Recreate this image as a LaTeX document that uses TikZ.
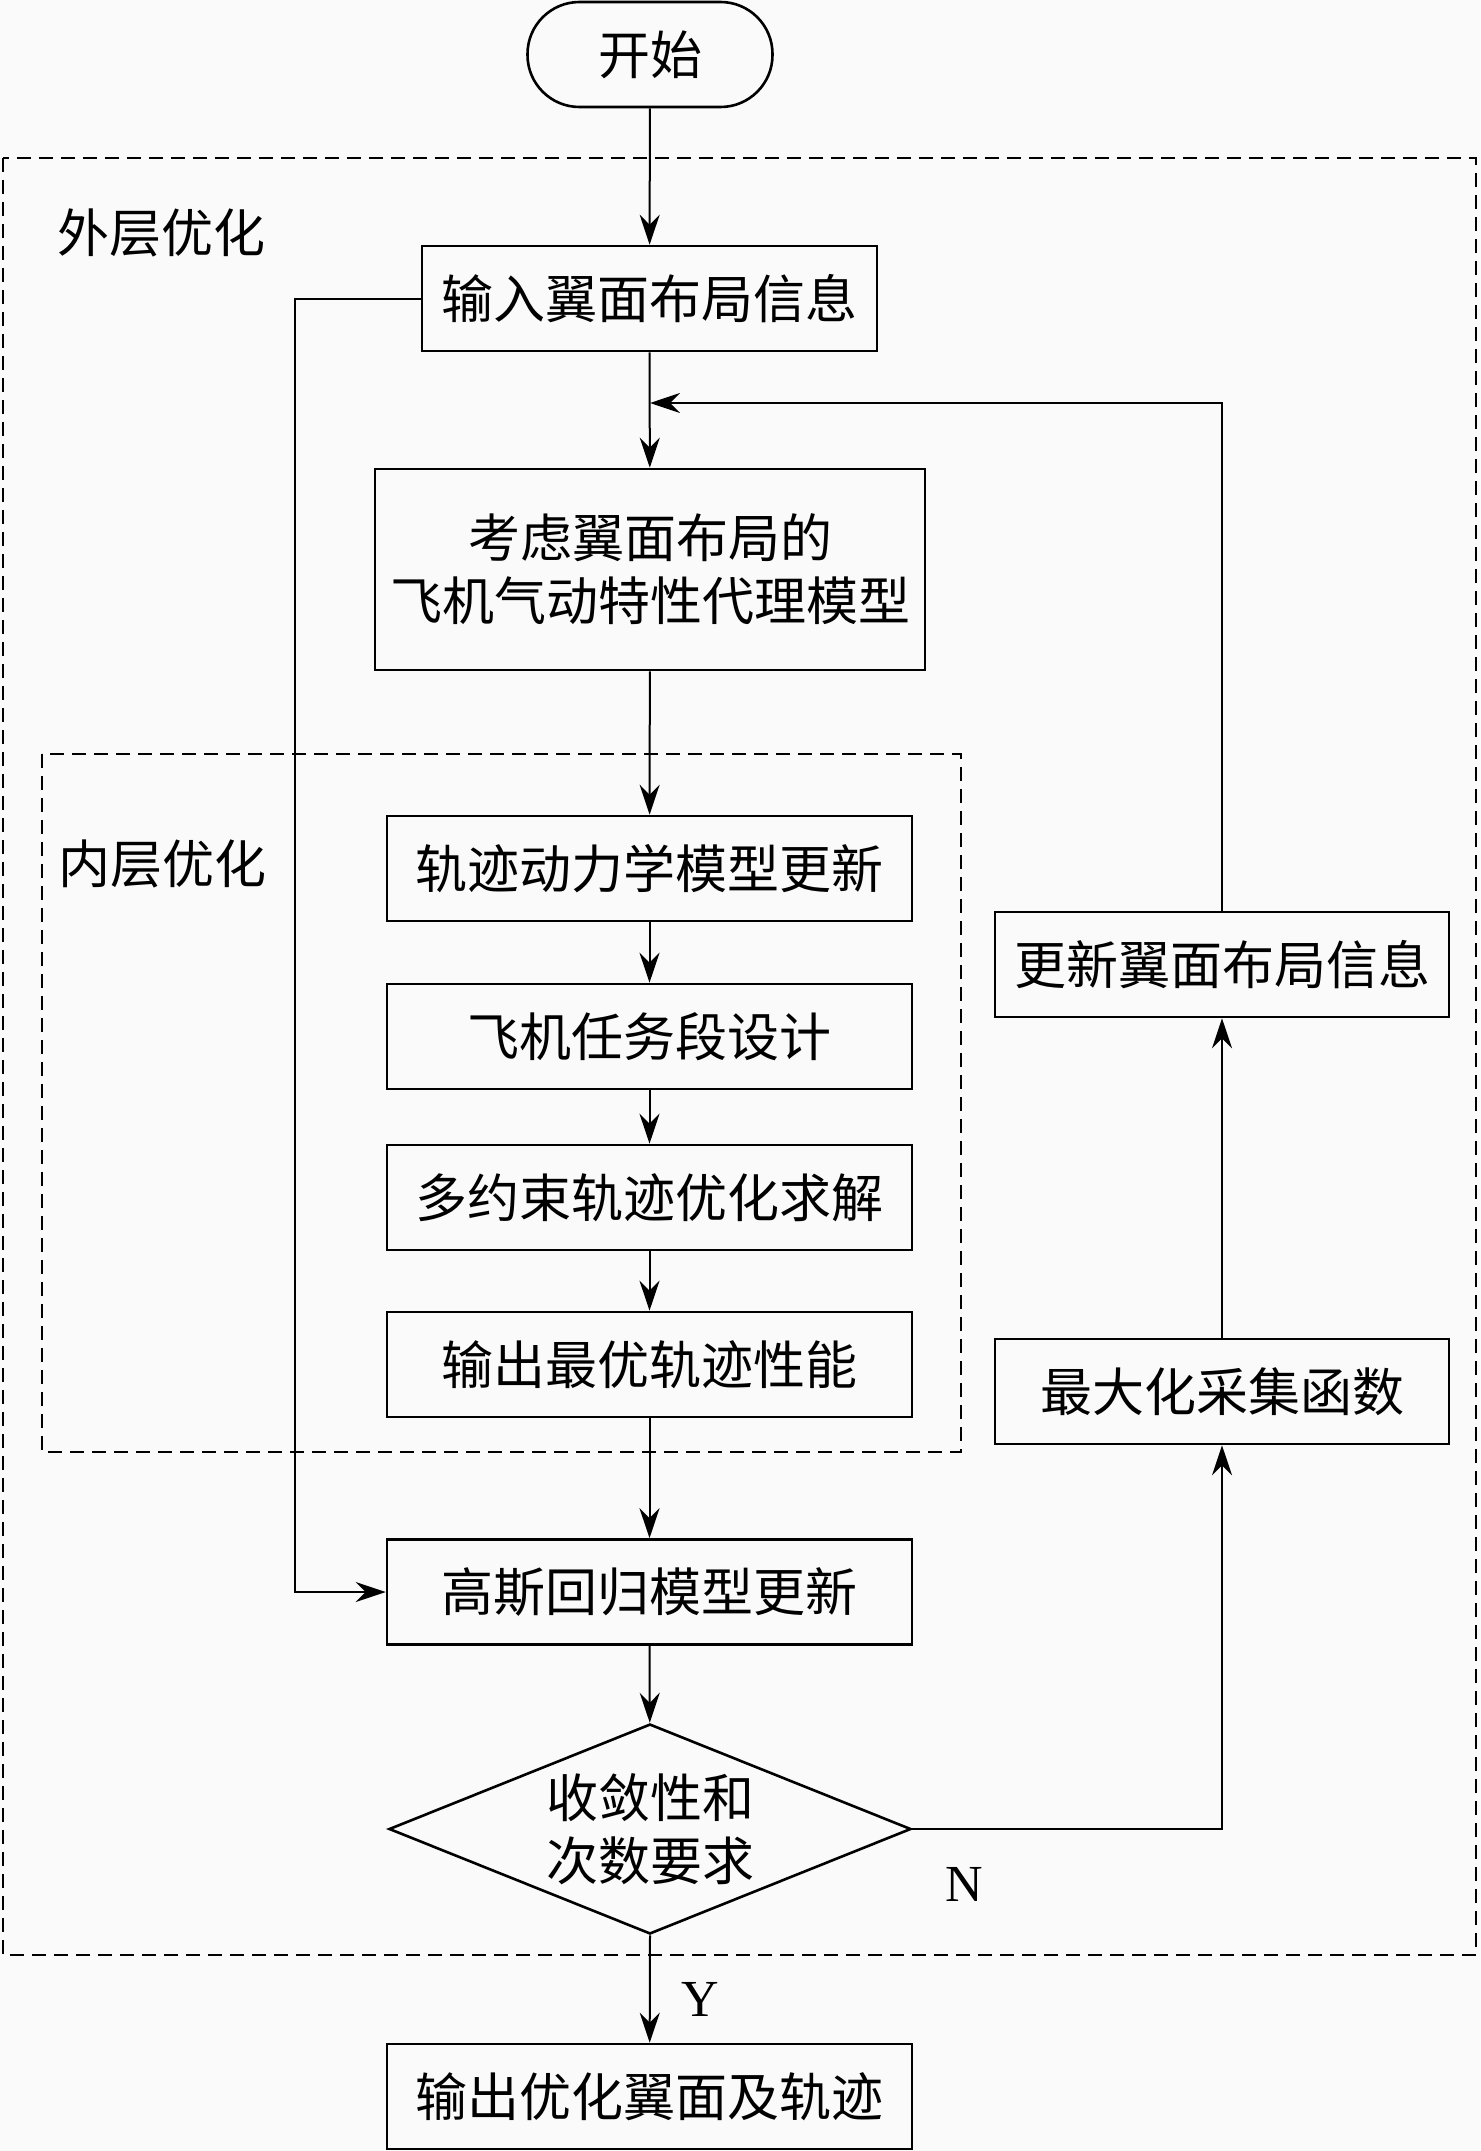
\documentclass[tikz,border=0pt]{standalone}
\usepackage{fontspec}
\setmainfont{Liberation Serif}
\newfontfamily\cjk{Noto Sans CJK SC}
\usetikzlibrary{arrows.meta,shapes.geometric}
\definecolor{bg}{RGB}{250,250,250}

\tikzset{
  box/.style={draw, line width=1.3pt, minimum height=52.5pt, inner sep=0pt, align=center, font=\cjk\fontsize{26}{31.5}\selectfont},
  lbl/.style={inner sep=0pt, font=\cjk\fontsize{26}{31.5}\selectfont},
  yn/.style={inner sep=0pt, font=\fontsize{26}{30}\selectfont},
  arr/.style={line width=1pt, -{Stealth[length=15pt,width=10pt,inset=5pt]}},
  zone/.style={line width=1.2pt, dash pattern=on 7pt off 4pt}
}

\begin{document}
\begin{tikzpicture}[x=0.5pt,y=-0.5pt]

\fill[bg] (0,0) rectangle (1480,2151);
\useasboundingbox (0,0) rectangle (1480,2151);

\draw[zone] (3,158) rectangle (1476,1955);
\draw[zone] (42,754) rectangle (961,1452);
\node[lbl] (outerlbl) at (161,233) {外层优化};
\node[lbl] (innerlbl) at (162,864) {内层优化};

\node[box, rounded corners=26pt, minimum width=122.5pt] (start) at (650,54.5) {开始};
\node[box, minimum width=227.5pt] (input) at (649.5,298.5) {输入翼面布局信息};
\node[box, minimum width=275pt, minimum height=100.5pt] (model) at (650,569.5) {考虑翼面布局的\\飞机气动特性代理模型};
\node[box, minimum width=262.5pt] (traj) at (649.5,868.5) {轨迹动力学模型更新};
\node[box, minimum width=262.5pt] (mission) at (649.5,1036.5) {飞机任务段设计};
\node[box, minimum width=262.5pt] (solve) at (649.5,1197.5) {多约束轨迹优化求解};
\node[box, minimum width=262.5pt] (best) at (649.5,1364.5) {输出最优轨迹性能};
\node[box, minimum width=262.5pt] (gauss) at (649.5,1592) {高斯回归模型更新};
\node[box, shape=diamond, aspect=2.5, minimum width=261pt, minimum height=105pt] (check) at (650,1829) {收敛性和\\次数要求};
\node[box, minimum width=262.5pt] (final) at (649.5,2096.5) {输出优化翼面及轨迹};
\node[box, minimum width=227pt] (update) at (1222,964.5) {更新翼面布局信息};
\node[box, minimum width=227pt] (maxacq) at (1222,1391.5) {最大化采集函数};

\node[yn] (nlbl) at (964,1884) {N};
\node[yn] (ylbl) at (700,1999) {Y};

\coordinate (merge) at (650,403);
\coordinate (leftbend) at (295,298.5);

\draw[arr] (start) -- (input);
\draw[arr] (input) -- (model);
\draw[arr] (update.north) |- (merge);
\draw[arr] (model) -- (traj);
\draw[arr] (traj) -- (mission);
\draw[arr] (mission) -- (solve);
\draw[arr] (solve) -- (best);
\draw[arr] (best) -- (gauss);
\draw[arr] (input.west) -- (leftbend) |- (gauss.west);
\draw[arr] (gauss) -- (check);
\draw[arr] (check.east) -| (maxacq.south);
\draw[arr] (maxacq) -- (update);
\draw[arr] (check.south) -- (final);

\end{tikzpicture}
\end{document}
